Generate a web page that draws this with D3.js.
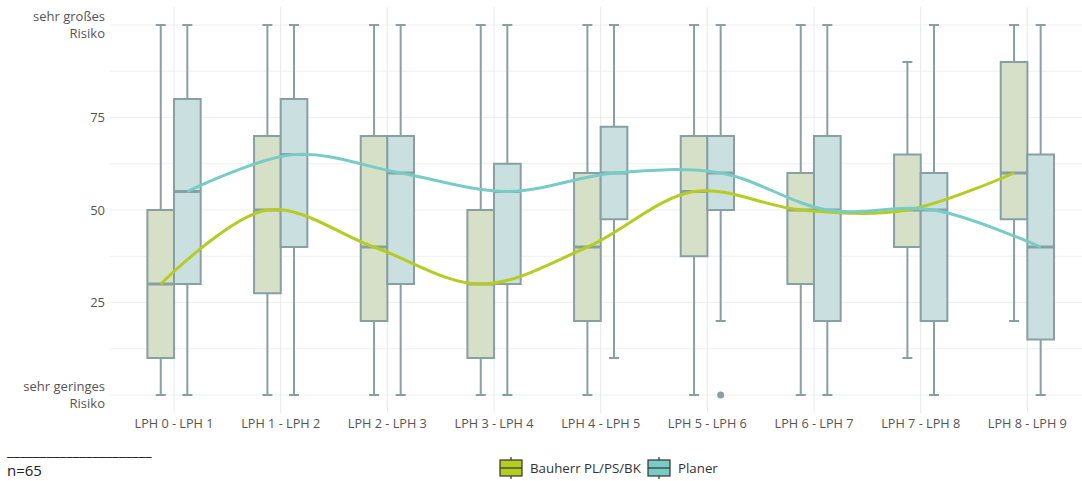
<!DOCTYPE html>
<html><head><meta charset="utf-8">
<script src="https://cdn.jsdelivr.net/npm/d3@7"></script>
<style>body{margin:0;background:#fff}</style>
</head><body><svg id="c" width="1082" height="481" font-family="Open Sans, sans-serif"></svg>
<script>
const categories = ["LPH 0 - LPH 1","LPH 1 - LPH 2","LPH 2 - LPH 3","LPH 3 - LPH 4","LPH 4 - LPH 5","LPH 5 - LPH 6","LPH 6 - LPH 7","LPH 7 - LPH 8","LPH 8 - LPH 9"];
const seriesNames = ["Bauherr PL/PS/BK","Planer"];
// [min, q1, median, q3, max]
const bauherr = [[0,10,30,50,100],[0,27.5,50,70,100],[0,20,40,70,100],[0,10,30,50,100],[0,20,40,60,100],[0,37.5,55,70,100],[0,30,50,60,100],[10,40,50,65,90],[20,47.5,60,90,100]];
const planer = [[0,30,55,80,100],[0,40,65,80,100],[0,30,60,70,100],[0,30,55,62.5,100],[10,47.5,60,72.5,100],[20,50,60,70,100],[0,20,50,70,100],[0,20,50,60,100],[0,15,40,65,100]];
const planerOutliers = [[5,0]];
const yTicks = [0,25,50,75,100];
const yTickLabels = {0:["sehr geringes","Risiko"],25:["25"],50:["50"],75:["75"],100:["sehr großes","Risiko"]};
const minorTicks = [12.5,37.5,62.5,87.5];

const svg = d3.select("#c");
const x = d3.scaleBand().domain(categories).range([120.7,1080.7]);
const y = d3.scaleLinear().domain([0,100]).range([395,25]);
const bw = 26.7, off = 13.3;
const boxStroke = "#87a0a3";
const fills = ["#d5e0c6","#cadfdf"];
const lineCols = ["#b5cc21","#77cdc5"];
const legendFills = ["#b5cc21","#77cdc5"];

// gridlines
const g = svg.append("g");
[...yTicks, ...minorTicks].forEach(v=>{
  g.append("line").attr("x1",110).attr("x2",1082).attr("y1",y(v)).attr("y2",y(v)).attr("stroke","#eeeff0").attr("stroke-width",1.2);
});
categories.forEach(c=>{
  const cx = x(c)+x.bandwidth()/2;
  g.append("line").attr("x1",cx).attr("x2",cx).attr("y1",7).attr("y2",413).attr("stroke","#e8eaeb").attr("stroke-width",1);
});

// y labels
yTicks.forEach(v=>{
  const lines = yTickLabels[v];
  const n = lines.length;
  lines.forEach((l,i)=>{
    svg.append("text").attr("x",105).attr("text-anchor","end").attr("fill","#555").attr("font-size",13)
      .attr("y", y(v) + 4.5 + (i - (n-1)/2)*16.5).text(l);
  });
});
// x labels
categories.forEach(c=>{
  svg.append("text").attr("x",x(c)+x.bandwidth()/2).attr("y",428).attr("text-anchor","middle").attr("fill","#555").attr("font-size",12.7).text(c);
});

function drawBoxes(data, si){
  const sign = si===0?-1:1;
  data.forEach((d,i)=>{
    const cx = x(categories[i])+x.bandwidth()/2 + sign*off;
    const gg = svg.append("g");
    gg.append("line").attr("x1",cx).attr("x2",cx).attr("y1",y(d[0])).attr("y2",y(d[1])).attr("stroke",boxStroke).attr("stroke-width",2);
    gg.append("line").attr("x1",cx).attr("x2",cx).attr("y1",y(d[3])).attr("y2",y(d[4])).attr("stroke",boxStroke).attr("stroke-width",2);
    [d[0],d[4]].forEach(v=>gg.append("line").attr("x1",cx-5).attr("x2",cx+5).attr("y1",y(v)).attr("y2",y(v)).attr("stroke",boxStroke).attr("stroke-width",2));
    gg.append("rect").attr("x",cx-bw/2).attr("width",bw).attr("y",y(d[3])).attr("height",y(d[1])-y(d[3])).attr("fill",fills[si]).attr("stroke",boxStroke).attr("stroke-width",2);
    gg.append("line").attr("x1",cx-bw/2).attr("x2",cx+bw/2).attr("y1",y(d[2])).attr("y2",y(d[2])).attr("stroke",boxStroke).attr("stroke-width",3);
  });
}
drawBoxes(bauherr,0);
drawBoxes(planer,1);
planerOutliers.forEach(([i,v])=>{
  svg.append("circle").attr("cx",x(categories[i])+x.bandwidth()/2+off).attr("cy",y(v)).attr("r",3.5).attr("fill",boxStroke);
});

// smooth median lines
const line = d3.line().curve(d3.curveCatmullRom.alpha(0.5));
[bauherr,planer].forEach((data,si)=>{
  const sign = si===0?-1:1;
  const pts = data.map((d,i)=>[x(categories[i])+x.bandwidth()/2+sign*off, y(d[2])]);
  svg.append("path").attr("d",line(pts)).attr("fill","none").attr("stroke",lineCols[si]).attr("stroke-width",3);
});

// footnote
svg.append("text").attr("x",7).attr("y",456).attr("font-size",15).attr("fill","#222").text("______________________");
svg.append("text").attr("x",7).attr("y",476).attr("font-size",15).attr("fill","#222").text("n=65");

// legend
const lx = [500, 648];
seriesNames.forEach((n,i)=>{
  const gx = lx[i], cy = 468;
  const lg = svg.append("g");
  lg.append("line").attr("x1",gx+11).attr("x2",gx+11).attr("y1",cy-11).attr("y2",cy+11).attr("stroke","#333").attr("stroke-width",1.2);
  lg.append("rect").attr("x",gx).attr("y",cy-8).attr("width",22).attr("height",16).attr("fill",legendFills[i]).attr("stroke","#333").attr("stroke-width",1.2);
  lg.append("line").attr("x1",gx).attr("x2",gx+22).attr("y1",cy).attr("y2",cy).attr("stroke","#333").attr("stroke-width",1.2);
  lg.append("text").attr("x",gx+30).attr("y",cy+5).attr("font-size",13.3).attr("fill","#333").text(n);
});
</script></body></html>
